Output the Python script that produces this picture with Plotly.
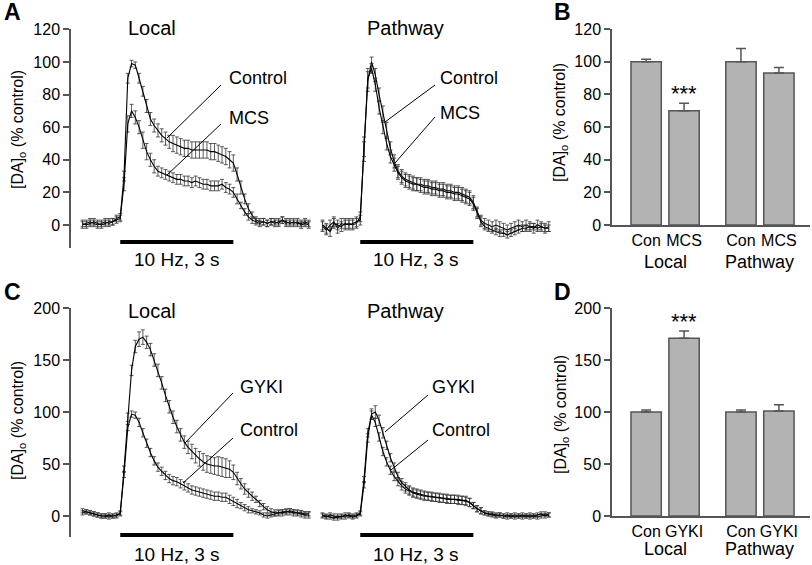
import numpy as np
import plotly.graph_objects as go

# sample times (s), stimulus 10 Hz for 3 s starting at t = 0
time = np.round(np.arange(-1.0, 5.01, 0.1), 1)
stim_start, stim_end = 0, 3

# ---- panel A: Control vs MCS (% control) ----
a_local_ctl = [0, 1, 2, 1, 0, 1, 2, 1, 2, 4,
               5, 30, 90, 99, 98, 90, 82, 73, 65, 61,
               58, 55, 53, 51, 50, 49, 48, 47, 47, 46,
               46, 46, 46, 46, 45, 45, 44, 43, 42, 40,
               38, 31, 23, 16, 10, 6, 3, 2, 2, 1,
               2, 1, 2, 3, 1, 2, 1, 2, 0, 1, 0]
a_local_ctl_err = [2] * 10 + [2, 3, 3, 2, 2, 3, 3, 4, 4, 4] + [4, 4, 4, 4, 5, 5, 5, 5, 5, 5] \
    + [5] * 10 + [5, 4, 4, 3, 3, 2, 2, 2, 2, 2] + [2] * 11
a_local_mcs = [1, 0, 1, 2, 1, 0, 1, 2, 2, 3,
               4, 25, 62, 70, 66, 60, 52, 45, 40, 36,
               33, 32, 31, 30, 29, 28, 28, 27, 27, 26,
               27, 26, 25, 25, 24, 24, 24, 25, 23, 22,
               20, 16, 12, 8, 5, 3, 2, 1, 2, 1,
               2, 2, 1, 3, 2, 1, 2, 1, 1, 2, 1]
a_local_mcs_err = [2] * 10 + [2, 4, 5, 4, 4, 4, 5, 5, 4, 4] + [3] * 10 + [3] * 10 \
    + [3, 3, 2, 2, 2, 2, 2, 2, 2, 2] + [2] * 11

a_path_ctl = [-1, -3, 0, 2, -2, 1, 0, 1, 0, 1,
              5, 45, 88, 100, 92, 80, 68, 58, 47, 39,
              33, 30, 28, 27, 26, 25, 25, 24, 24, 23,
              23, 22, 22, 21, 21, 20, 20, 19, 18, 17,
              14, 8, 3, 1, 0, -1, 0, -1, -2, -3,
              -2, -1, 0, -1, 0, -1, -2, 0, -1, -2, -1]
a_path_ctl_err = [3] * 10 + [3, 6, 6, 3, 4, 4, 5, 5, 4, 4] + [4] * 10 + [4] * 10 \
    + [4, 3, 3, 3, 3, 3, 3, 3, 3, 3] + [3] * 11
a_path_mcs = [0, -2, -4, 1, 0, -1, 1, 0, 1, 2,
              3, 48, 90, 96, 86, 72, 60, 50, 42, 37,
              32, 29, 27, 26, 25, 25, 24, 23, 23, 22,
              22, 21, 21, 20, 20, 19, 19, 18, 17, 16,
              13, 7, 2, -1, -2, -3, -4, -5, -5, -6,
              -5, -4, -3, -2, -2, -1, -1, -2, -1, -2, -2]
a_path_mcs_err = [3] * 10 + [3, 6, 6, 3, 4, 4, 4, 4, 4, 4] + [4] * 10 + [4] * 10 \
    + [4, 3, 3, 2, 2, 2, 2, 2, 2, 2] + [2] * 11

# ---- panel C: Control vs GYKI (% control) ----
c_local_gyki = [5, 4, 3, 2, 1, 0, 0, 1, 0, 1,
                2, 45, 95, 140, 163, 170, 172, 167, 160, 150,
                140, 128, 116, 105, 95, 86, 78, 71, 66, 62,
                58, 55, 52, 50, 49, 48, 48, 47, 46, 45,
                42, 36, 31, 26, 22, 19, 16, 12, 9, 6,
                4, 3, 3, 3, 4, 4, 3, 3, 2, 1, 1]
c_local_gyki_err = [2] * 10 + [2, 3, 4, 5, 6, 7, 7, 6, 6, 6] + [6] * 9 + [7] \
    + [7, 7, 8, 8, 8, 8, 9, 9, 9, 8] + [7, 6, 5, 5, 4, 4, 3, 3, 3, 3] + [3] * 11
c_local_ctl = [3, 4, 3, 2, 1, 0, 0, -1, 0, 0,
               3, 40, 85, 98, 97, 90, 80, 70, 61, 53,
               47, 43, 39, 36, 34, 33, 31, 29, 27, 25,
               24, 23, 22, 21, 20, 19, 19, 18, 18, 16,
               14, 12, 10, 8, 6, 5, 4, 3, 1, 0,
               1, 2, 3, 4, 4, 5, 4, 3, 3, 2, 2]
c_local_ctl_err = [2] * 10 + [2, 3, 3, 3, 3, 4, 4, 4, 4, 4] + [4] * 10 + [4] * 10 \
    + [4, 4, 3, 3, 3, 2, 2, 2, 2, 2] + [2] * 11

c_path_gyki = [1, 0, -1, -2, 0, -1, 1, 0, -1, 0,
               2, 30, 75, 98, 100, 92, 80, 68, 56, 47,
               38, 32, 28, 25, 23, 22, 21, 20, 19, 19,
               18, 18, 17, 17, 16, 16, 16, 15, 15, 13,
               10, 7, 5, 3, 2, 2, 1, 1, 0, 1,
               0, -1, 0, 1, 0, -1, 0, 1, 2, 0, 1]
c_path_gyki_err = [2] * 10 + [2, 3, 4, 5, 6, 5, 5, 4, 4, 4] + [4] * 10 + [4] * 10 \
    + [3, 3, 3, 2, 2, 2, 2, 2, 2, 2] + [2] * 11
c_path_ctl = [0, -1, 1, 0, -2, 0, -1, 1, 0, 1,
              3, 35, 80, 97, 90, 76, 62, 52, 44, 38,
              33, 29, 26, 24, 22, 21, 20, 19, 19, 18,
              18, 17, 17, 16, 16, 16, 15, 15, 14, 13,
              10, 7, 5, 3, 2, 1, 0, 1, 0, -1,
              0, 1, 0, -1, 0, 1, 0, -1, 0, 2, 1]
c_path_ctl_err = [2] * 10 + [2, 3, 4, 4, 4, 4, 4, 4, 4, 4] + [4] * 10 + [4] * 10 \
    + [3, 3, 3, 2, 2, 2, 2, 2, 2, 2] + [2] * 11

# ---- bar panels B and D ----
bar_x = [0, 1, 2.5, 3.5]
b_labels = ["Con", "MCS", "Con", "MCS"]
b_vals = [100, 70, 100, 93]
b_err = [1.5, 4.5, 8, 3.5]
d_labels = ["Con", "GYKI", "Con", "GYKI"]
d_vals = [100, 171, 100, 101]
d_err = [2, 7, 2, 6]
groups = ["Local", "Pathway"]
group_x = [0.5, 3.0]

W, H = 812, 565
FONT = "Liberation Sans, Arial, Helvetica, sans-serif"
AX = "#555555"


def px(x):
    return x / W


def py(y):
    return 1 - y / H


fig = go.Figure()


def trace(x, y, err, xa, ya):
    fig.add_trace(go.Scatter(
        x=x, y=y, mode="lines", xaxis=xa, yaxis=ya,
        line=dict(color="black", width=1.1),
        error_y=dict(type="data", array=err, color="#333333", thickness=0.8, width=2),
        showlegend=False, hoverinfo="skip"))


trace(time, a_local_ctl, a_local_ctl_err, "x", "y")
trace(time, a_local_mcs, a_local_mcs_err, "x", "y")
trace(time, a_path_ctl, a_path_ctl_err, "x2", "y")
trace(time, a_path_mcs, a_path_mcs_err, "x2", "y")
trace(time, c_local_ctl, c_local_ctl_err, "x3", "y3")
trace(time, c_local_gyki, c_local_gyki_err, "x3", "y3")
trace(time, c_path_ctl, c_path_ctl_err, "x4", "y3")
trace(time, c_path_gyki, c_path_gyki_err, "x4", "y3")

for vals, err, xa, ya in [(b_vals, b_err, "x5", "y5"), (d_vals, d_err, "x6", "y6")]:
    fig.add_trace(go.Bar(
        x=bar_x, y=vals, xaxis=xa, yaxis=ya, width=0.8,
        marker=dict(color="#b3b3b3", line=dict(color=AX, width=1.5)),
        error_y=dict(type="data", symmetric=False, array=err, arrayminus=[0] * 4,
                     color=AX, thickness=1.5, width=5),
        showlegend=False, hoverinfo="skip"))

t_range = [-1.2, 5.166]
hidden_x = dict(visible=False, range=t_range, fixedrange=True, automargin=False)
yax = dict(showline=True, linecolor=AX, linewidth=1.5, ticks="outside", ticklen=6,
           tickcolor=AX, tickwidth=1.5, showgrid=False, zeroline=False, automargin=False,
           tickfont=dict(size=16, color="black"))
bax = dict(range=[-0.9, 4.32], showline=True, linecolor=AX, linewidth=1.5, ticks="",
           showgrid=False, zeroline=False, automargin=False, tickvals=bar_x,
           tickfont=dict(size=16, color="black"))

fig.update_layout(
    width=W, height=H, margin=dict(l=0, r=0, t=0, b=0, pad=0, autoexpand=False),
    plot_bgcolor="white", paper_bgcolor="white",
    font=dict(family=FONT, color="black"),
    xaxis=dict(hidden_x, domain=[px(75), px(315)], anchor="y"),
    xaxis2=dict(hidden_x, domain=[px(315), px(555)], anchor="y"),
    yaxis=dict(yax, domain=[py(248), py(29)], range=[-14.1, 120.2], anchor="free",
               position=px(70), tickvals=[0, 20, 40, 60, 80, 100, 120]),
    xaxis3=dict(hidden_x, domain=[px(75), px(315)], anchor="y3"),
    xaxis4=dict(hidden_x, domain=[px(315), px(555)], anchor="y3"),
    yaxis3=dict(yax, domain=[py(537), py(308)], range=[-20.2, 200], anchor="free",
                position=px(70), tickvals=[0, 50, 100, 150, 200]),
    xaxis5=dict(bax, domain=[px(612), px(810)], anchor="y5", ticktext=b_labels),
    yaxis5=dict(yax, domain=[py(225), py(29)], range=[0, 120], anchor="x5",
                tickvals=[0, 20, 40, 60, 80, 100, 120]),
    xaxis6=dict(bax, domain=[px(612), px(810)], anchor="y6", ticktext=d_labels),
    yaxis6=dict(yax, domain=[py(516), py(308)], range=[0, 200], anchor="x6",
                tickvals=[0, 50, 100, 150, 200]),
)

ann = []


def text(x, y, s, size=17, xanchor="center", **kw):
    ann.append(dict(x=px(x), y=py(y), xref="paper", yref="paper", text=s, showarrow=False,
                    xanchor=xanchor, yanchor="middle", font=dict(size=size, family=FONT), **kw))


# panel letters
for letter, x, y in [("A", 12, 12), ("B", 562, 12), ("C", 12, 292), ("D", 562, 292)]:
    text(x, y, "<b>%s</b>" % letter, size=23)

# panel titles
for s, x, y in [("Local", 152, 28), ("Pathway", 405, 28), ("Local", 152, 311), ("Pathway", 405, 311)]:
    text(x, y, s, size=20)

# y axis titles
ytitle = "[DA]<sub>o</sub> (% control)"
for x, y in [(18, 130), (561, 123), (18, 421), (561, 415)]:
    text(x, y, ytitle, size=16, textangle=-90)

# stimulus labels
for x, y in [(177, 259), (416, 259), (177, 554), (416, 554)]:
    text(x, y, "10 Hz, 3 s", size=19)

# curve labels
for s, x, y in [("Control", 227, 78), ("MCS", 227, 118), ("Control", 438, 78), ("MCS", 438, 113),
                ("GYKI", 238, 387), ("Control", 238, 430), ("GYKI", 430, 387), ("Control", 430, 430)]:
    text(x, y, s, size=18, xanchor="left")

# group labels and significance for the bar panels
for xa, ya in [("x5", 262), ("x6", 549)]:
    for g, gx in zip(groups, group_x):
        ann.append(dict(x=gx, y=py(ya), xref=xa, yref="paper", text=g, showarrow=False,
                        yanchor="middle", font=dict(size=18, family=FONT)))
ann.append(dict(x=bar_x[1], y=b_vals[1] + b_err[1], xref="x5", yref="y5", text="***",
                showarrow=False, yanchor="bottom", yshift=-5, font=dict(size=22, family=FONT)))
ann.append(dict(x=bar_x[1], y=d_vals[1] + d_err[1], xref="x6", yref="y6", text="***",
                showarrow=False, yanchor="bottom", yshift=-5, font=dict(size=22, family=FONT)))
fig.update_layout(annotations=ann)

shapes = []
# stimulus bars
for xa, y in [("x", 242), ("x2", 242), ("x3", 535), ("x4", 535)]:
    shapes.append(dict(type="line", xref=xa, yref="paper", x0=stim_start, x1=stim_end,
                       y0=py(y), y1=py(y), line=dict(color="black", width=4)))
# leader lines from labels to curves
for x0, y0, x1, y1 in [(221, 85, 167, 138), (221, 124, 167, 175), (435, 85, 385, 122),
                       (435, 117, 395, 163), (233, 393, 185, 443), (233, 438, 183, 483),
                       (428, 395, 385, 432), (428, 440, 391, 470)]:
    shapes.append(dict(type="line", xref="paper", yref="paper", x0=px(x0), y0=py(y0),
                       x1=px(x1), y1=py(y1), line=dict(color="black", width=1)))
fig.update_layout(shapes=shapes)

fig.write_html("out.html", config={"displayModeBar": False},
               post_script="document.body.style.margin='0';")
